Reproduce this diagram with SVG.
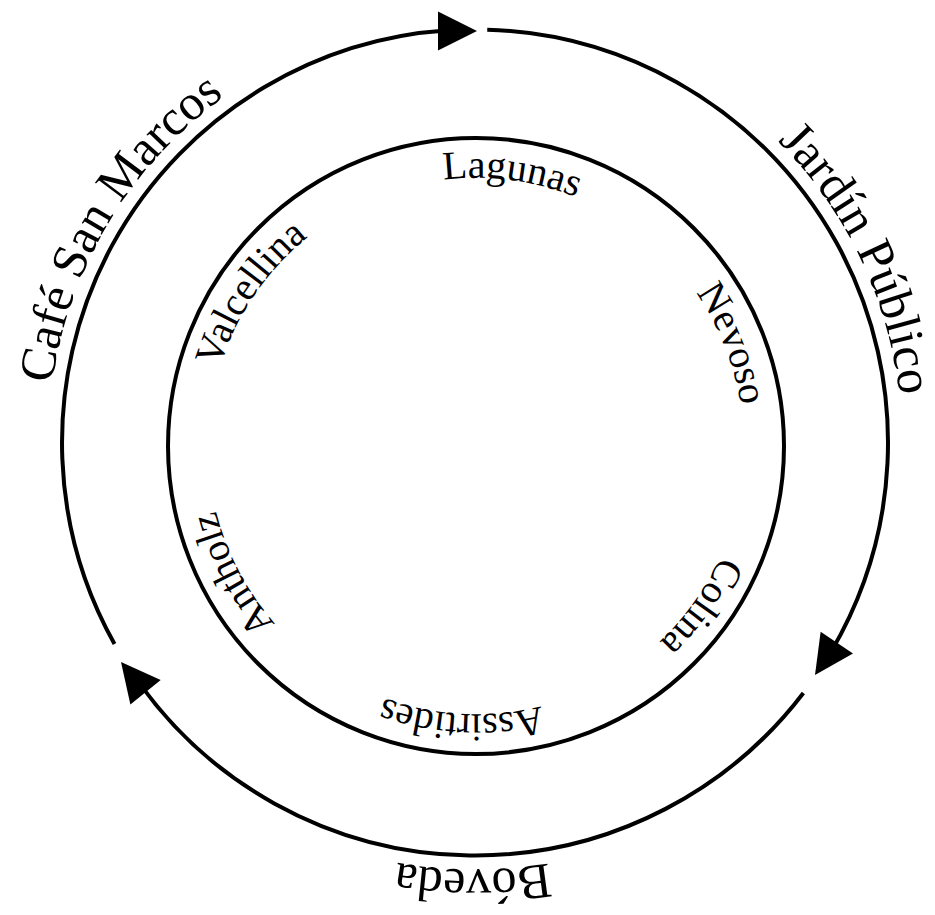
<svg xmlns="http://www.w3.org/2000/svg" xmlns:xlink="http://www.w3.org/1999/xlink" width="935" height="915" viewBox="0 0 935 915">
<style>
.ring{fill:none;stroke:#000;stroke-width:4}
.arc{fill:none;stroke:#000;stroke-width:4;stroke-linecap:butt}
.head{fill:#000;stroke:none}
.outer{font-family:"Liberation Serif","Times New Roman",serif;font-size:50px;fill:#000}
.inner{font-family:"Liberation Serif","Times New Roman",serif;font-size:40px;fill:#000}
</style>
<defs>
<path id="ah" d="M0,0 L-39,-19.5 L-39,19.5 Z"/>
<path id="outerPath" d="M48,442.5 A427,427 0 1 1 902,442.5 A427,427 0 1 1 48,442.5"/>
<path id="innerPath" d="M208,446 A268,268 0 1 1 744,446 A268,268 0 1 1 208,446"/>
</defs>
<rect width="935" height="915" fill="#fff"/>

<g id="connectors">
<path class="arc" d="M487.25,29.68 A413,413 0 0 1 831.22,651.49"/>
<use class="head" href="#ah" transform="translate(815,675) rotate(124)"/>
<path class="arc" d="M803.38,692.96 A413,413 0 0 1 140.03,684.09"/>
<use class="head" href="#ah" transform="translate(121,662) rotate(231)"/>
<path class="arc" d="M114.5,643.99 A413,413 0 0 1 448.35,30.36"/>
<use class="head" href="#ah" transform="translate(477,31) rotate(0)"/>
</g>

<g id="inner-ring">
<circle class="ring" cx="476" cy="446" r="308"/>
</g>

<g id="node-jardin-publico"><text class="outer" text-anchor="middle"><textPath href="#outerPath" startOffset="1150.7">Jardín Público</textPath></text></g>
<g id="node-boveda"><text class="outer" text-anchor="middle"><textPath href="#outerPath" startOffset="2014.4">Bóveda</textPath></text></g>
<g id="node-cafe-san-marcos"><text class="outer" text-anchor="middle"><textPath href="#outerPath" startOffset="231">Café San Marcos</textPath></text></g>

<g id="node-lagunas"><text class="inner" text-anchor="middle"><textPath href="#innerPath" startOffset="456">Lagunas</textPath></text></g>
<g id="node-nevoso"><text class="inner" text-anchor="middle"><textPath href="#innerPath" startOffset="740">Nevoso</textPath></text></g>
<g id="node-colina"><text class="inner" text-anchor="middle"><textPath href="#innerPath" startOffset="1008">Colina</textPath></text></g>
<g id="node-assirtides"><text class="inner" text-anchor="middle"><textPath href="#innerPath" startOffset="1277">Assirtides</textPath></text></g>
<g id="node-antholz"><text class="inner" text-anchor="middle"><textPath href="#innerPath" startOffset="1554">Antholz</textPath></text></g>
<g id="node-valcellina"><text class="inner" text-anchor="middle"><textPath href="#innerPath" startOffset="159.5">Valcellina</textPath></text></g>
</svg>
